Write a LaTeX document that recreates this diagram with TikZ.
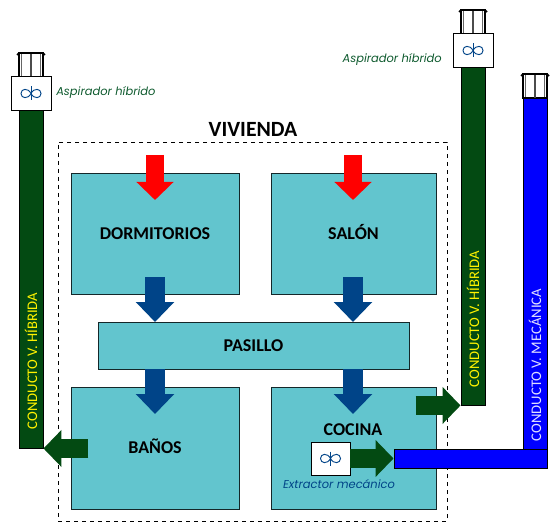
\documentclass[tikz,border=0pt]{standalone}
\usepackage{fontspec}
\setmainfont{Carlito}
\newfontfamily\notefont{Poppins}
\usepackage{xcolor}
\usepackage{tikz}
\usetikzlibrary{arrows.meta,positioning,calc}
\definecolor{roomteal}{HTML}{62C5CE}
\definecolor{ductgreen}{HTML}{034A12}
\definecolor{flowblue}{HTML}{004488}
\definecolor{notegreen}{HTML}{0E5A2E}

\begin{document}
\begin{tikzpicture}[x=0.75pt,y=-0.75pt,
  room/.style={draw=black!80!roomteal, fill=roomteal, inner sep=0pt, text height=8.6pt, text depth=0pt, font=\fontsize{13.5}{15}\selectfont\bfseries},
  duct/.style={draw=black, fill=#1, inner sep=0pt, line width=0.7pt},
  fanbox/.style={draw=black, fill=white, inner sep=0pt, line width=0.7pt},
  flow/.style={line width=#1, line cap=butt},
  redarr/.style={draw=red, flow=13.5pt, -{Triangle[length=13.5pt,width=27pt,fill=red]}},
  bluearr/.style={draw=flowblue, flow=14.5pt, -{Triangle[length=15pt,width=28pt,fill=flowblue]}},
  greenarr/.style={draw=ductgreen, flow=14pt, -{Triangle[length=13.5pt,width=27pt,fill=ductgreen]}},
  ducttxt/.style={rotate=90, font=\fontsize{11}{13}\selectfont, inner sep=0pt},
  note/.style={font=\notefont\itshape\fontsize{8.6}{10}\selectfont, text=#1, inner sep=0pt},
  fan/.pic={
    \draw[flowblue, line width=0.7pt]
      (0,0) .. controls (-3,-6) and (-10,-5) .. (-10,0) .. controls (-10,5) and (-3,6) .. (0,0)
      .. controls (3,-6) and (10,-5) .. (10,0) .. controls (10,5) and (3,6) .. (0,0);
    \draw[flowblue, line width=0.7pt] (0,-7) -- (0,7);
  },
  hood/.pic={
    \draw[black, fill=white, line width=0.9pt] (-12,24) rectangle (12,0);
    \draw[black!70, line width=0.9pt] (0,24) -- (0,0);
    \draw[black!60, line width=1pt] (-9.5,23) -- (-9.5,1) (9.5,23) -- (9.5,1);
    \draw[black, line width=1.3pt] (-14,2) -- (-12,0) -- (12,0) -- (14,2);
  }
]
\useasboundingbox (0,0) rectangle (550,524);

%% ---- house ----
\node[draw, dashed, minimum width=291.75pt, minimum height=284.25pt, inner sep=0pt] (vivienda) at (252.5,331.5) {};
\node[font=\fontsize{16.3}{18}\selectfont\bfseries, inner sep=0pt] (vivlbl) at (253,129) {VIVIENDA};

%% ---- rooms ----
\node[room, minimum width=126pt, minimum height=90.75pt] (dorm) at (155,233.5) {DORMITORIOS};
\node[room, minimum width=123.75pt, minimum height=90.75pt] (salon) at (353.5,233.5) {SALÓN};
\node[room, minimum width=233.25pt, minimum height=35.25pt] (pasillo) at (253.5,345.5) {PASILLO};
\node[room, minimum width=126pt, minimum height=91.5pt] (banos) at (155,448) {BAÑOS};
\node[room, minimum width=123.75pt, minimum height=91.5pt] (cocina) at (353.5,448) {};
\node[font=\fontsize{13.5}{15}\selectfont\bfseries, inner sep=0pt] (coclbl) at (353,429.5) {COCINA};

%% ---- chimneys ----
\pic at (31,53) {hood};
\pic at (473,10) {hood};
\pic at (535,74) {hood};

%% ---- ducts ----
\node[duct=ductgreen, minimum width=18pt, minimum height=255pt] (ductl) at (31,278) {};
\node[duct=ductgreen, minimum width=18pt, minimum height=253.5pt] (ductr) at (473,236) {};
\node[duct=blue, minimum width=18pt, minimum height=264pt] (ductm) at (535,274) {};
\node[duct=blue, minimum width=114.75pt, minimum height=14.25pt] (ductbar) at (470.5,458.5) {};

\node[ducttxt, text=yellow] (txtl) at (31,361) {CONDUCTO V. HÍBRIDA};
\node[ducttxt, text=yellow] (txtr) at (473,319) {CONDUCTO V. HÍBRIDA};
\node[ducttxt, text=blue!12!white] (txtm) at (535,365) {CONDUCTO V. MECÁNICA};

%% ---- fans ----
\node[fanbox, minimum width=30pt, minimum height=25pt] (fanl) at (31,93.5) {};
\node[fanbox, minimum width=30pt, minimum height=25pt] (fanr) at (473,50.5) {};
\node[fanbox, minimum width=29.25pt, minimum height=24.75pt] (fanc) at (330.5,458.5) {};
\pic at (fanl) {fan};
\pic at (fanr) {fan};
\pic at (fanc) {fan};

\node[note=notegreen, anchor=west] (aspl) at (56,93) {Aspirador híbrido};
\node[note=notegreen, anchor=east] (aspr) at (442,60) {Aspirador híbrido};
\node[note=flowblue] (extr) at (339,484) {Extractor mecánico};

%% ---- air inlets ----
\coordinate (ind) at (155,155);
\coordinate (ins) at (353,155);
\coordinate (ind2) at (155,200);
\coordinate (ins2) at (353,200);
\foreach \x/\y in {ind/ind2, ins/ins2}
  \draw[redarr] (\x) -- (\y);

%% ---- transfer air ----
\draw[bluearr] (155,277) -- (155,322);
\draw[bluearr] (353,277) -- (353,322);
\draw[bluearr] (155,369) -- (155,414);
\draw[bluearr] (353,369) -- (353,414);

%% ---- exhaust ----
\coordinate (outb) at ($(ductl.south east)+(45,0)$);
\coordinate (outc) at ($(ductr.south west)+(-45,0)$);
\draw[greenarr] (outb) -- (ductl.south east);
\draw[greenarr] (outc) -- (ductr.south west);
\draw[greenarr] (fanc.east) -- (ductbar.west);
\end{tikzpicture}
\end{document}
